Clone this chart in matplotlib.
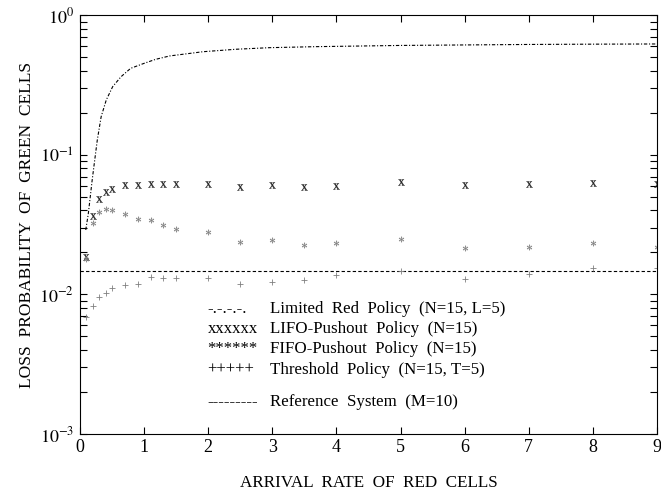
import matplotlib
matplotlib.use("Agg")
import matplotlib.pyplot as plt
from matplotlib.ticker import LogLocator, NullFormatter, FixedLocator

# ── データ ───────────────────────────────────
rate = [0.1, 0.2, 0.3, 0.4, 0.5, 0.7, 0.9, 1.1, 1.3, 1.5,
        2, 2.5, 3, 3.5, 4, 5, 6, 7, 8, 9]
lifo = [0.0187, 0.0365, 0.0484, 0.0546, 0.057, 0.0612, 0.061, 0.0619, 0.0615, 0.0615,
        0.062, 0.0587, 0.0612, 0.0593, 0.0603, 0.064, 0.0612, 0.062, 0.063, 0.062]
fifo = [0.0179, 0.0324, 0.0388, 0.0408, 0.0401, 0.0378, 0.0348, 0.034, 0.0313, 0.0296,
        0.028, 0.0237, 0.0245, 0.0227, 0.0235, 0.0249, 0.0214, 0.0218, 0.0233, 0.022]
thresh = [0.00687, 0.0083, 0.00964, 0.0103, 0.01107, 0.01175, 0.0119, 0.0133, 0.0132, 0.0132,
          0.0131, 0.0119, 0.0123, 0.0127, 0.0138, 0.0148, 0.0129, 0.014, 0.0155, 0.0154]

limited_x = [0.09, 0.13, 0.16, 0.19, 0.23, 0.27, 0.33, 0.41, 0.51, 0.64, 0.79, 1.0,
             1.18, 1.4, 1.92, 2.44, 2.96, 3.69, 5, 6, 7, 8, 9]
limited_y = [0.029, 0.038, 0.05, 0.066, 0.092, 0.128, 0.188, 0.248, 0.309, 0.364, 0.418, 0.454,
             0.485, 0.513, 0.55, 0.573, 0.588, 0.598, 0.61, 0.615, 0.62, 0.623, 0.625]

ref_level = 0.01466

legend_syms = ["-.-.-.-.", "xxxxxx", "******", "+++++", "---------"]
legend_text = ["Limited  Red  Policy  (N=15, L=5)",
               "LIFO-Pushout  Policy  (N=15)",
               "FIFO-Pushout  Policy  (N=15)",
               "Threshold  Policy  (N=15, T=5)",
               "Reference  System  (M=10)"]

plt.rcParams["font.family"] = ["Liberation Serif", "DejaVu Serif"]
plt.rcParams["mathtext.fontset"] = "stix"

fig = plt.figure(figsize=(6.61, 4.92), dpi=100)
ax = fig.add_axes([0.121, 0.118, 0.873, 0.8505])

ax.plot(limited_x, limited_y, color="black", lw=0.8, linestyle=(0, (3, 1.6, 1, 1.6)))
ax.plot([0, 9], [ref_level, ref_level], color="black", lw=0.8, linestyle=(0, (3, 2)))
ax.plot(rate, lifo, linestyle="none", marker=r"$\mathrm{x}$", ms=4.5, mew=0.2, color="#222222")
ax.plot(rate, fifo, linestyle="none", marker=r"$\ast$", ms=4, mew=0.2, color="#808080")
ax.plot(rate, thresh, linestyle="none", marker="+", ms=5, mew=0.6, color="#808080")

ax.set_yscale("log")
ax.set_xlim(0, 9)
ax.set_ylim(1e-3, 1)
ax.xaxis.set_major_locator(FixedLocator(range(10)))
ax.yaxis.set_minor_locator(LogLocator(base=10, subs=range(2, 10), numticks=10))
ax.yaxis.set_minor_formatter(NullFormatter())
ax.set_yticks([1e-3, 1e-2, 1e-1, 1])
ax.set_yticklabels([r"$10^{-3}$", r"$10^{-2}$", r"$10^{-1}$", r"$10^{0}$"])

ax.tick_params(which="both", direction="in", top=True, right=True, labelsize=13, width=0.8)
ax.tick_params(which="major", length=5, pad=4)
ax.tick_params(which="minor", length=5)
for s in ax.spines.values():
    s.set_linewidth(0.8)

ax.set_xlabel("ARRIVAL  RATE  OF  RED  CELLS", fontsize=12.3, labelpad=13)
ax.set_ylabel("LOSS  PROBABILITY  OF  GREEN  CELLS", fontsize=12.5, labelpad=3)

# 凡例（図中テキスト）
rows_y = [0.299, 0.250, 0.202, 0.154, 0.077]
for sym, txt, yy in zip(legend_syms, legend_text, rows_y):
    ax.text(0.221, yy, sym, transform=ax.transAxes, fontsize=12, va="center", ha="left")
    ax.text(0.330, yy, txt, transform=ax.transAxes, fontsize=12.2, va="center", ha="left")

fig.savefig("out.png", dpi=100)
